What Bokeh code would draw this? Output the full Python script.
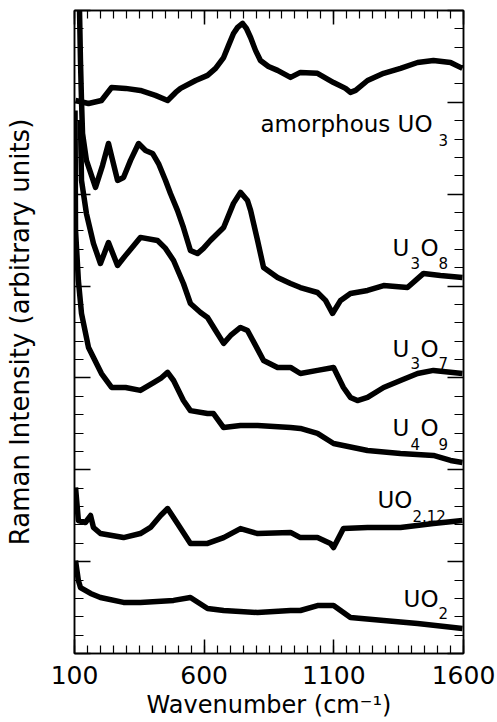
from bokeh.plotting import figure
from bokeh.models import Range1d, FixedTicker, LinearAxis, Label, CustomLabelingPolicy
from bokeh.embed import file_html
from bokeh.resources import INLINE

# ---- data (wavenumber cm^-1, intensity in arbitrary offset units) ----
amorph_w = [104, 154, 204, 243, 297, 354, 412, 459, 490, 509, 567, 613, 644, 675, 694, 713,
            729, 748, 763, 779, 798, 817, 848, 883, 933, 971, 1037, 1099, 1145, 1164, 1184, 1230,
            1292, 1357, 1423, 1484, 1550, 1596]
amorph_i = [30.10, 29.94, 30.10, 30.81, 30.76, 30.65, 30.38, 30.10, 30.54, 30.76, 31.19,
            31.47, 31.85, 32.44, 33.10, 33.75, 34.08, 34.30, 34.02, 33.53, 32.83, 32.28, 31.95,
            31.74, 31.36, 31.63, 31.58, 31.08, 30.76, 30.54, 30.65, 31.19, 31.58, 31.85, 32.17,
            32.28, 32.17, 31.85]

u3o8_w = [119, 123, 127, 131, 146, 181, 208, 231, 247, 266, 289, 316, 347, 374, 401, 424,
          451, 470, 497, 520, 547, 574, 597, 624, 675, 713, 740, 767, 779, 806, 829, 883, 933,
          971, 1037, 1068, 1095, 1126, 1164, 1230, 1292, 1384, 1446, 1511, 1596]
u3o8_i = [35.27, 32.28, 30.10, 28.31, 26.84, 25.37, 26.56, 27.76, 26.84, 25.75, 25.91,
          26.84, 27.76, 27.38, 27.22, 26.67, 25.75, 25.04, 24.12, 23.19, 21.94, 21.77, 22.05,
          22.48, 23.19, 24.50, 25.10, 24.66, 24.12, 22.48, 21.01, 20.47, 20.14, 19.92, 19.65,
          19.22, 18.51, 19.22, 19.60, 19.76, 20.03, 19.92, 20.69, 20.58, 20.47]

u3o7_w = [123, 127, 146, 173, 200, 231, 266, 297, 354, 420, 451, 482, 520, 547, 586,
          613, 644, 675, 702, 740, 767, 798, 829, 883, 933, 971, 1037, 1099, 1137, 1164, 1191,
          1230, 1292, 1357, 1423, 1484, 1596]
u3o7_i = [29.02, 25.75, 23.95, 22.32, 21.23, 22.37, 21.12, 21.67, 22.65, 22.48,
          22.05, 21.39, 20.14, 19.05, 18.56, 18.29, 17.58, 16.88, 17.31, 17.75, 17.58, 16.77,
          15.95, 15.57, 15.57, 15.24, 15.41, 15.57, 14.48, 13.94, 13.77, 13.94, 14.48, 14.86,
          15.24, 15.41, 15.24]

u4o9_w = [102, 104, 115, 127, 154, 204, 243, 297, 354, 405, 432, 459, 482, 520, 547,
          613, 636, 675, 740, 806, 933, 971, 1037, 1099, 1230, 1357, 1484, 1550, 1596]
u4o9_i = [29.56, 23.03, 20.30, 18.51, 16.66, 15.24, 14.48, 14.48, 14.32, 14.75,
          14.97, 15.30, 14.86, 13.77, 13.22, 13.06, 13.06, 12.30, 12.41, 12.41, 12.30, 12.25,
          11.98, 11.43, 11.05, 10.89, 10.78, 10.51, 10.40]

uo212_w = [104, 115, 142, 162, 173, 200, 289, 354, 393, 432, 459, 497, 547, 613, 675, 740, 806,
           933, 971, 1037, 1087, 1099, 1137, 1230, 1357, 1484, 1596]
uo212_i = [9.04, 7.24, 7.13, 7.51, 6.86, 6.53, 6.31, 6.53, 6.86, 7.51, 7.89, 7.08, 5.99, 5.99,
           6.31, 6.80, 6.53, 6.59, 6.31, 6.31, 5.99, 5.77, 6.80, 6.86, 6.86, 7.08, 7.24]

uo2_w = [104, 115, 123, 162, 200, 289, 354, 482, 547, 613, 675, 806, 933, 971, 1037, 1099, 1164,
         1292, 1423, 1596]
uo2_i = [5.06, 3.97, 3.59, 3.27, 3.05, 2.78, 2.78, 2.89, 3.05, 2.45, 2.34, 2.23, 2.34, 2.34,
         2.61, 2.61, 1.96, 1.80, 1.63, 1.36]

x_major = [100, 600, 1100, 1600]
x_minor = list(range(100, 1601, 50))
y_major = [0, 5, 10, 15, 20, 25, 30, 35]
y_minor = list(range(0, 36))

FONT = "DejaVu Sans"

p = figure(width=497, height=722, output_backend="svg", toolbar_location=None,
           x_range=Range1d(100, 1600), y_range=Range1d(0, 35),
           x_axis_type=None, y_axis_type=None,
           min_border_left=74, min_border_right=34, min_border_top=10, min_border_bottom=69)
p.outline_line_color = "black"
p.outline_line_width = 1.5
p.background_fill_color = "white"
p.border_fill_color = "white"

NO_LABELS = "for (const i of Array.from(indices)) { indices.unset(i) }\nreturn indices"


def make_axis(ticks, minor, major_len, minor_len, show_labels):
    ax = LinearAxis(ticker=FixedTicker(ticks=ticks, minor_ticks=minor))
    ax.major_tick_in = major_len
    ax.major_tick_out = 0
    ax.minor_tick_in = minor_len
    ax.minor_tick_out = 0
    ax.axis_line_width = 1.5
    ax.major_tick_line_width = 1.5
    ax.minor_tick_line_width = 1.2
    ax.major_label_text_font = FONT
    ax.major_label_text_color = "black"
    if show_labels:
        ax.major_label_text_font_size = "25px"
    else:
        ax.major_label_text_font_size = "0px"
        ax.major_label_standoff = 0
        ax.major_label_policy = CustomLabelingPolicy(code=NO_LABELS)
    ax.axis_label_text_font = FONT
    ax.axis_label_text_font_style = "normal"
    ax.axis_label_text_color = "black"
    ax.axis_label_text_font_size = "24px"
    return ax


xb = make_axis(x_major, x_minor, 14, 8, True)
xb.axis_label = "Wavenumber (cm\u207b\u00b9)"
xb.major_label_standoff = 12
xb.axis_label_standoff = 4
xt = make_axis(x_major, x_minor, 14, 8, False)
yl = make_axis(y_major, y_minor, 16, 9, False)
yl.axis_label = "Raman Intensity (arbitrary units)"
yl.axis_label_text_font_size = "26px"
yl.axis_label_standoff = 40
yr = make_axis(y_major, y_minor, 16, 9, False)
p.add_layout(xb, "below")
p.add_layout(xt, "above")
p.add_layout(yl, "left")
p.add_layout(yr, "right")

for w, i in [(amorph_w, amorph_i), (u3o8_w, u3o8_i), (u3o7_w, u3o7_i),
             (u4o9_w, u4o9_i), (uo212_w, uo212_i), (uo2_w, uo2_i)]:
    p.line(w, i, line_color="black", line_width=5.5, line_join="round")


def lab(x, y, t, size):
    p.add_layout(Label(x=x, y=y, text=t, text_font=FONT, text_font_size=size,
                       text_color="black", text_align="left", text_baseline="alphabetic"))


BIG, SMALL = "23px", "15px"
lab(817, 28.80, "amorphous UO", BIG)
lab(1504, 27.93, "3", SMALL)
lab(1326, 22.05, "U", BIG); lab(1396, 21.28, "3", SMALL)
lab(1434, 22.05, "O", BIG); lab(1504, 21.28, "8", SMALL)
lab(1326, 16.60, "U", BIG); lab(1396, 15.79, "3", SMALL)
lab(1434, 16.60, "O", BIG); lab(1504, 15.79, "7", SMALL)
lab(1326, 12.25, "U", BIG); lab(1396, 11.43, "4", SMALL)
lab(1434, 12.25, "O", BIG); lab(1504, 11.43, "9", SMALL)
lab(1268, 8.33, "UO", BIG); lab(1403, 7.51, "2.12", SMALL)
lab(1369, 2.99, "UO", BIG); lab(1504, 2.18, "2", SMALL)

open("out.html", "w").write(file_html(p, INLINE))
